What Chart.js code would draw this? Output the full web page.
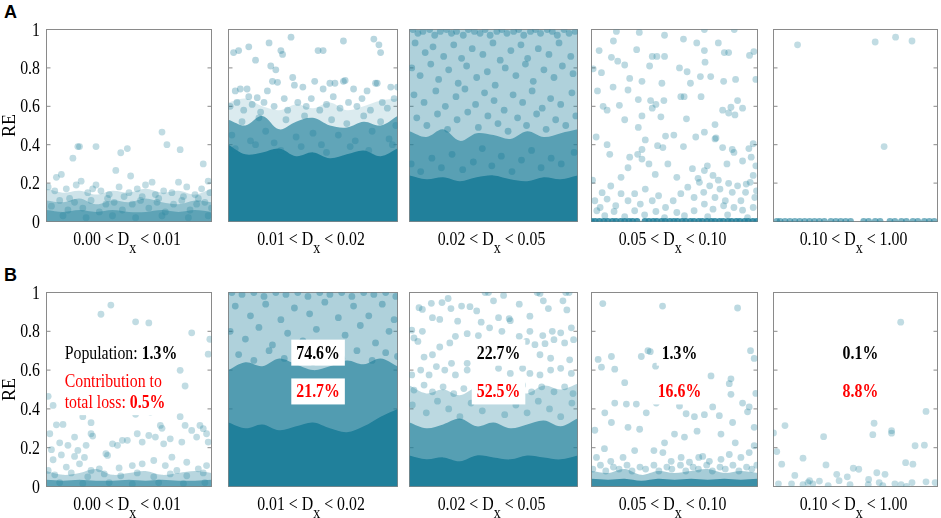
<!DOCTYPE html>
<html>
<head>
<meta charset="utf-8">
<script src="https://cdn.jsdelivr.net/npm/chart.js@4.4.1/dist/chart.umd.min.js"></script>
<style>
  html, body { margin: 0; padding: 0; background: #fff; }
  #wrap { position: relative; width: 941px; height: 518px; overflow: hidden; }
  #wrap canvas { position: absolute; }
  .tag { position: absolute; font: bold 18px "Liberation Sans", Arial, sans-serif; line-height: 18px; }
</style>
</head>
<body>
<div id="wrap">
  <div class="tag" style="left:4px;top:3px">A</div>
  <div class="tag" style="left:4px;top:266px">B</div>
</div>
<script>
// bins of Dx, one panel each
const bins = [[0, 0.01], [0.01, 0.02], [0.02, 0.05], [0.05, 0.10], [0.10, 1.00]];
const binEdges = ['0.00', '0.01', '0.02', '0.05', '0.10', '1.00'];
const yTicks = [0, 0.2, 0.4, 0.6, 0.8, 1];
const popShare = ['1.3%', '74.6%', '22.7%', '1.3%', '0.1%'];
const lossShare = ['0.5%', '21.7%', '52.5%', '16.6%', '8.8%'];

// x positions where the dense-cloud envelopes are read
const bandX = [
  [0, 0.001, 0.002, 0.003, 0.004, 0.005, 0.006, 0.007, 0.008, 0.009, 0.010],
  [0.010, 0.011, 0.012, 0.013, 0.014, 0.015, 0.016, 0.017, 0.018, 0.019, 0.020],
  [0.020, 0.023, 0.026, 0.029, 0.032, 0.035, 0.038, 0.041, 0.044, 0.047, 0.050],
  [0.050, 0.055, 0.060, 0.065, 0.070, 0.075, 0.080, 0.085, 0.090, 0.095, 0.100],
  [0.10, 0.19, 0.28, 0.37, 0.46, 0.55, 0.64, 0.73, 0.82, 0.91, 1.00]
];

// envelopes (top RE of each density level)
const a1Light = [0.17, 0.15, 0.16, 0.14, 0.16, 0.15, 0.17, 0.15, 0.16, 0.14, 0.17];
const a1Mid   = [0.11, 0.10, 0.12, 0.09, 0.11, 0.10, 0.12, 0.10, 0.09, 0.11, 0.10];
const a1Core  = [0.06, 0.05, 0.06, 0.05, 0.06, 0.05, 0.05, 0.06, 0.05, 0.06, 0.05];
const a2Light = [0.62, 0.64, 0.60, 0.58, 0.61, 0.59, 0.62, 0.58, 0.60, 0.63, 0.64];
const a2Mid   = [0.53, 0.50, 0.55, 0.48, 0.52, 0.54, 0.50, 0.49, 0.52, 0.50, 0.55];
const a2Core  = [0.40, 0.35, 0.36, 0.38, 0.34, 0.36, 0.33, 0.35, 0.37, 0.34, 0.38];
const a3Light = [1, 1, 1, 1, 1, 1, 1, 1, 1, 1, 1];
const a3Mid   = [0.47, 0.44, 0.48, 0.42, 0.46, 0.45, 0.43, 0.47, 0.44, 0.46, 0.48];
const a3Core  = [0.24, 0.22, 0.23, 0.21, 0.23, 0.24, 0.22, 0.21, 0.23, 0.22, 0.24];
const b1Mid   = [0.08, 0.06, 0.07, 0.09, 0.06, 0.07, 0.08, 0.06, 0.07, 0.08, 0.07];
const b1Core  = [0.035, 0.03, 0.035, 0.03, 0.03, 0.035, 0.03, 0.035, 0.03, 0.03, 0.035];
const b2Light = [1, 1, 1, 1, 1, 1, 1, 1, 1, 1, 1];
const b2Mid   = [0.60, 0.64, 0.62, 0.66, 0.63, 0.60, 0.62, 0.65, 0.63, 0.66, 0.62];
const b2Core  = [0.33, 0.30, 0.32, 0.29, 0.31, 0.33, 0.30, 0.28, 0.31, 0.36, 0.40];
const b3Light = [0.52, 0.48, 0.50, 0.47, 0.51, 0.49, 0.50, 0.48, 0.52, 0.50, 0.53];
const b3Mid   = [0.33, 0.30, 0.32, 0.35, 0.31, 0.33, 0.30, 0.32, 0.34, 0.31, 0.35];
const b3Core  = [0.16, 0.14, 0.15, 0.13, 0.16, 0.15, 0.14, 0.16, 0.15, 0.14, 0.16];
const b4Mid   = [0.08, 0.07, 0.09, 0.06, 0.08, 0.07, 0.08, 0.09, 0.07, 0.08, 0.07];
const b4Core  = [0.04, 0.035, 0.04, 0.03, 0.04, 0.035, 0.04, 0.035, 0.04, 0.035, 0.04];

// individual points [Dx, RE]
const a1Pts = [
  [0.0020,0.39],[0.0019,0.39],[0.0030,0.39],[0.0016,0.33],[0.0006,0.23],[0.0009,0.245],[0.0042,0.266],[0.0045,0.358],
  [0.0049,0.38],[0.0051,0.237],[0.0070,0.466],[0.0073,0.40],[0.0081,0.374],[0.0095,0.30],[0.0098,0.21],[0.0001,0.18],
  [0.0021,0.21],[0.0030,0.19],[0.0080,0.205],[0.0064,0.205],
  [0.0005,0.16],[0.0012,0.17],[0.0018,0.19],[0.0025,0.15],[0.0033,0.16],[0.0038,0.14],[0.0044,0.18],[0.0050,0.15],
  [0.0055,0.17],[0.0060,0.19],[0.0066,0.14],[0.0071,0.16],[0.0076,0.15],[0.0085,0.18],[0.0090,0.14],[0.0094,0.17],
  [0.0099,0.15],[0.0028,0.17],[0.0047,0.13],[0.0058,0.13],[0.0083,0.13],[0.0014,0.12],[0.0037,0.12],[0.0068,0.12],[0.0092,0.12],
  [0.0003,0.08],[0.0008,0.11],[0.0013,0.06],[0.0017,0.10],[0.0022,0.07],[0.0027,0.11],[0.0032,0.05],[0.0036,0.09],
  [0.0041,0.10],[0.0046,0.06],[0.0052,0.09],[0.0057,0.11],[0.0062,0.07],[0.0067,0.10],[0.0072,0.05],[0.0077,0.09],
  [0.0082,0.11],[0.0087,0.06],[0.0091,0.09],[0.0096,0.10],[0.0100,0.07],[0.0010,0.03],[0.0024,0.02],[0.0040,0.03],
  [0.0054,0.02],[0.0070,0.03],[0.0086,0.02],[0.0098,0.03]
];
const a2Pts = [
  [0.0103,0.88],[0.0106,0.89],[0.0112,0.91],[0.0116,0.84],[0.0124,0.93],[0.0131,0.89],[0.0132,0.87],[0.0137,0.96],
  [0.0153,0.89],[0.0156,0.89],[0.0168,0.94],[0.0186,0.95],[0.0189,0.92],[0.0190,0.88],[0.0125,0.81],[0.0128,0.79],
  [0.0104,0.68],[0.0107,0.69],[0.0111,0.69],[0.0112,0.65],[0.0117,0.645],[0.0123,0.68],[0.0126,0.73],[0.0129,0.725],
  [0.0138,0.75],[0.0139,0.71],[0.0144,0.70],[0.0151,0.73],[0.0156,0.69],[0.0160,0.72],[0.0163,0.72],[0.0168,0.73],
  [0.0169,0.735],[0.0174,0.69],[0.0182,0.68],[0.0187,0.72],[0.0188,0.72],[0.0196,0.70],[0.0200,0.70],
  [0.0101,0.60],[0.0105,0.62],[0.0109,0.58],[0.0114,0.61],[0.0119,0.57],[0.0121,0.62],[0.0127,0.60],[0.0133,0.64],
  [0.0135,0.58],[0.0141,0.62],[0.0146,0.60],[0.0149,0.64],[0.0154,0.58],[0.0158,0.61],[0.0162,0.65],[0.0166,0.59],
  [0.0171,0.62],[0.0176,0.60],[0.0179,0.64],[0.0184,0.58],[0.0191,0.62],[0.0194,0.59],[0.0198,0.64],
  [0.0102,0.45],[0.0108,0.52],[0.0113,0.42],[0.0118,0.54],[0.0122,0.47],[0.0127,0.41],[0.0134,0.53],[0.0140,0.44],
  [0.0145,0.55],[0.0150,0.46],[0.0155,0.40],[0.0161,0.53],[0.0165,0.45],[0.0170,0.51],[0.0175,0.42],[0.0180,0.55],
  [0.0185,0.47],[0.0190,0.52],[0.0195,0.43],[0.0199,0.50],
  [0.0104,0.38],[0.0116,0.40],[0.0131,0.37],[0.0143,0.39],[0.0158,0.36],[0.0172,0.39],[0.0183,0.37],[0.0197,0.40]
];
const a3Pts = [
  [0.0206,1.0],[0.0215,0.98],[0.0224,0.99],[0.0236,1.0],[0.0245,0.97],[0.0255,0.99],[0.0266,1.0],[0.0275,0.98],
  [0.0284,0.99],[0.0296,0.97],[0.0305,1.0],[0.0316,0.99],[0.0326,0.98],[0.0335,1.0],[0.0344,0.97],[0.0356,0.99],
  [0.0365,1.0],[0.0374,0.98],[0.0386,0.99],[0.0395,1.0],[0.0404,0.97],[0.0416,0.99],[0.0425,1.0],[0.0434,0.98],
  [0.0446,1.0],[0.0455,0.99],[0.0464,0.97],[0.0476,1.0],[0.0485,0.98],[0.0496,0.99],
  [0.0210,0.93],[0.0228,0.88],[0.0242,0.91],[0.0261,0.86],[0.0279,0.92],[0.0293,0.85],[0.0312,0.90],[0.0331,0.87],
  [0.0349,0.93],[0.0362,0.84],[0.0381,0.89],[0.0399,0.92],[0.0411,0.85],[0.0430,0.90],[0.0449,0.87],[0.0467,0.93],[0.0488,0.86],
  [0.0204,0.80],[0.0219,0.76],[0.0238,0.82],[0.0252,0.74],[0.0270,0.79],[0.0287,0.72],[0.0302,0.81],[0.0320,0.75],
  [0.0339,0.78],[0.0353,0.71],[0.0371,0.80],[0.0390,0.76],[0.0407,0.82],[0.0421,0.73],[0.0440,0.79],[0.0458,0.75],
  [0.0473,0.81],[0.0492,0.77],
  [0.0208,0.66],[0.0226,0.62],[0.0247,0.68],[0.0264,0.60],[0.0283,0.65],[0.0299,0.69],[0.0318,0.61],[0.0334,0.67],
  [0.0351,0.63],[0.0369,0.58],[0.0385,0.66],[0.0402,0.62],[0.0419,0.68],[0.0437,0.59],[0.0452,0.64],[0.0470,0.61],[0.0490,0.67],
  [0.0213,0.54],[0.0231,0.50],[0.0250,0.56],[0.0268,0.48],[0.0285,0.53],[0.0304,0.57],[0.0323,0.49],[0.0340,0.55],
  [0.0358,0.51],[0.0376,0.47],[0.0393,0.54],[0.0409,0.50],[0.0427,0.56],[0.0444,0.48],[0.0461,0.53],[0.0479,0.50],[0.0497,0.55],
  [0.0203,0.30],[0.0220,0.26],[0.0240,0.33],[0.0257,0.28],[0.0276,0.35],[0.0295,0.27],[0.0314,0.31],[0.0330,0.38],
  [0.0347,0.29],[0.0364,0.34],[0.0383,0.26],[0.0400,0.32],[0.0418,0.37],[0.0435,0.28],[0.0453,0.33],[0.0471,0.30],[0.0494,0.36]
];
const a4Pts = [
  [0.0575,0.99],[0.0644,0.985],[0.0720,0.97],[0.0840,1.0],[0.0930,1.0],[0.0523,0.89],[0.0566,0.94],[0.0636,0.895],
  [0.0683,0.86],[0.0720,0.86],[0.0777,0.95],[0.0817,0.93],[0.0840,0.89],[0.0882,0.93],[0.0913,0.88],[0.0900,0.88],
  [0.0976,0.865],[0.0989,0.885],[0.0560,0.855],[0.0579,0.835],[0.0600,0.815],[0.0675,0.81],[0.0697,0.86],[0.0765,0.80],
  [0.0788,0.78],[0.0842,0.83],[0.0505,0.795],[0.0530,0.775],[0.0615,0.745],[0.0652,0.73],[0.0712,0.72],[0.0769,0.65],
  [0.0779,0.65],[0.0798,0.72],[0.0828,0.755],[0.0859,0.755],[0.0898,0.73],[0.0934,0.74],[0.0995,0.74],[0.0518,0.68],
  [0.0565,0.70],[0.0610,0.685],[0.0641,0.635],[0.0678,0.63],[0.0694,0.61],[0.0718,0.63],[0.0830,0.65],[0.0895,0.58],
  [0.0940,0.63],[0.0955,0.59],[0.0920,0.595],[0.0535,0.60],[0.0547,0.58],[0.0584,0.605],[0.0600,0.53],[0.0641,0.49],
  [0.0652,0.55],[0.0683,0.59],[0.0709,0.545],[0.0786,0.535],[0.0872,0.505],[0.0913,0.565],[0.0932,0.555],
  [0.0514,0.44],[0.0547,0.40],[0.0555,0.35],[0.0615,0.335],[0.0639,0.35],[0.0652,0.375],[0.0662,0.425],[0.0699,0.395],
  [0.0715,0.385],[0.0748,0.45],[0.0723,0.445],[0.0777,0.39],[0.0814,0.44],[0.0840,0.465],[0.0872,0.43],[0.0875,0.435],
  [0.0895,0.385],[0.0924,0.375],[0.0974,0.38],[0.0987,0.405],
  [0.0503,0.215],[0.0532,0.15],[0.0558,0.185],[0.0589,0.23],[0.0610,0.28],[0.0652,0.325],[0.0673,0.30],[0.0692,0.245],
  [0.0730,0.30],[0.0757,0.23],[0.0804,0.275],[0.0821,0.225],[0.0840,0.265],[0.0849,0.29],[0.0866,0.24],[0.0882,0.215],
  [0.0908,0.30],[0.0929,0.36],[0.0955,0.315],[0.0981,0.335],[0.0995,0.29],[0.0987,0.24],[0.0966,0.195],
  [0.0510,0.108],[0.0526,0.073],[0.0547,0.117],[0.0573,0.082],[0.0589,0.145],[0.0610,0.108],[0.0630,0.145],[0.0647,0.091],
  [0.0662,0.169],[0.0683,0.108],[0.0702,0.134],[0.0723,0.073],[0.0746,0.108],[0.0769,0.145],[0.0790,0.179],[0.0809,0.125],
  [0.0825,0.204],[0.0838,0.152],[0.0856,0.186],[0.0872,0.125],[0.0887,0.169],[0.0903,0.108],[0.0913,0.199],[0.0924,0.152],
  [0.0940,0.186],[0.0950,0.108],[0.0964,0.152],[0.0978,0.204],[0.0992,0.125],[0.0997,0.16],[0.0987,0.073],[0.0929,0.073],
  [0.0866,0.064],[0.0809,0.056],[0.0757,0.047],[0.0694,0.052],[0.0630,0.056],[0.0568,0.052],[0.0516,0.056],[0.0840,0.091],
  [0.0898,0.082],[0.0955,0.059],[0.0540,0.03],[0.0600,0.025],[0.0660,0.035],[0.0720,0.02],[0.0780,0.03],[0.0850,0.025],
  [0.0910,0.035],[0.0970,0.02]
];
const a4Zero = [
  [0.0500,0],[0.0511,0],[0.0524,0],[0.0537,0],[0.0549,0],[0.0563,0],[0.0574,0],[0.0588,0],[0.0600,0],[0.0613,0],
  [0.0624,0],[0.0637,0],[0.0661,0],[0.0673,0],[0.0686,0],[0.0697,0],[0.0711,0],[0.0722,0],[0.0736,0],[0.0748,0],
  [0.0759,0],[0.0773,0],[0.0784,0],[0.0798,0],[0.0809,0],[0.0823,0],[0.0834,0],[0.0848,0],[0.0861,0],[0.0872,0],
  [0.0886,0],[0.0897,0],[0.0911,0],[0.0922,0],[0.0936,0],[0.0947,0],[0.0961,0],[0.0972,0],[0.0986,0],[0.0998,0]
];
const a5Pts = [[0.232,0.92],[0.658,0.935],[0.770,0.96],[0.860,0.94],[0.707,0.39]];
const a5Zero = [
  [0.118,0],[0.136,0],[0.163,0],[0.190,0],[0.217,0],[0.244,0],[0.271,0],[0.298,0],[0.325,0],[0.352,0],[0.379,0],
  [0.415,0],[0.442,0],[0.469,0],[0.496,0],[0.523,0],[0.595,0],[0.622,0],[0.658,0],[0.685,0],[0.739,0],[0.766,0],
  [0.802,0],[0.829,0],[0.865,0],[0.892,0],[0.928,0],[0.955,0],[0.982,0]
];
const b1Pts = [
  [0.0033,0.888],[0.0039,0.935],[0.0054,0.849],[0.0062,0.843],[0.0088,0.792],[0.0099,0.759],[0.0098,0.682],[0.0081,0.599],
  [0.0084,0.518],[0.0081,0.36],[0.0084,0.315],[0.0001,0.465],[0.0004,0.418],[0.0002,0.272],[0.0006,0.318],[0.0010,0.32],
  [0.0022,0.36],[0.0027,0.329],[0.0027,0.272],[0.0028,0.26],[0.0024,0.212],[0.0017,0.255],[0.0013,0.212],[0.0008,0.225],
  [0.0004,0.138],[0.0001,0.083],[0.0017,0.155],[0.0023,0.15],[0.0036,0.169],[0.0037,0.16],[0.0040,0.22],[0.0043,0.212],
  [0.0046,0.238],[0.0049,0.238],[0.0054,0.372],[0.0055,0.272],[0.0058,0.229],[0.0062,0.263],[0.0063,0.384],[0.0066,0.255],
  [0.0069,0.315],[0.0070,0.30],[0.0071,0.22],[0.0075,0.246],[0.0076,0.151],[0.0082,0.229],[0.0088,0.289],[0.0091,0.255],
  [0.0093,0.315],[0.0095,0.298],[0.0097,0.272],[0.0098,0.229],[0.0032,0.091],[0.0019,0.186],[0.0020,0.117],[0.0012,0.10],
  [0.0009,0.163],[0.0003,0.19],[0.0044,0.096],[0.0052,0.108],[0.0058,0.117],[0.0065,0.134],[0.0072,0.108],[0.0079,0.083],
  [0.0085,0.125],[0.0092,0.091],[0.0097,0.108],[0.0027,0.083],
  [0.0005,0.06],[0.0015,0.07],[0.0025,0.05],[0.0035,0.065],[0.0045,0.055],[0.0055,0.07],[0.0065,0.05],[0.0075,0.065],
  [0.0085,0.055],[0.0095,0.07],[0.0008,0.02],[0.0022,0.015],[0.0038,0.02],[0.0052,0.012],[0.0068,0.02],[0.0083,0.015],[0.0096,0.02]
];
const b2Pts = [
  [0.0102,1.0],[0.0108,0.99],[0.0115,1.0],[0.0121,0.98],[0.0128,1.0],[0.0134,0.99],[0.0141,1.0],[0.0147,0.98],
  [0.0154,1.0],[0.0160,0.99],[0.0167,1.0],[0.0173,0.98],[0.0180,1.0],[0.0186,0.99],[0.0193,1.0],[0.0199,0.98],
  [0.0104,0.93],[0.0113,0.88],[0.0122,0.94],[0.0131,0.86],[0.0139,0.92],[0.0148,0.89],[0.0157,0.95],[0.0165,0.87],
  [0.0174,0.93],[0.0183,0.88],[0.0191,0.94],[0.0198,0.86],
  [0.0101,0.80],[0.0110,0.76],[0.0118,0.82],[0.0126,0.73],[0.0135,0.79],[0.0144,0.75],[0.0152,0.81],[0.0161,0.72],
  [0.0169,0.78],[0.0178,0.83],[0.0187,0.74],[0.0195,0.80],
  [0.0106,0.68],[0.0115,0.65],[0.0124,0.70],[0.0133,0.66],[0.0142,0.69],[0.0150,0.64],[0.0159,0.68],[0.0167,0.66],
  [0.0176,0.70],[0.0185,0.65],[0.0193,0.69],[0.0200,0.67]
];
const b3Pts = [
  [0.0335,1.0],[0.0341,1.0],[0.0350,0.957],[0.0428,1.0],[0.0433,0.995],[0.0479,1.0],[0.0485,1.0],[0.0368,0.985],
  [0.0396,0.94],[0.0439,0.957],[0.0448,0.917],[0.0474,0.957],[0.0481,0.91],
  [0.0217,0.922],[0.0223,0.913],[0.0239,0.944],[0.0258,0.948],[0.0269,0.969],[0.0274,0.917],[0.0293,0.93],[0.0308,0.927],
  [0.0320,0.905],[0.0359,0.87],[0.0378,0.865],[0.0380,0.855],[0.0415,0.878],
  [0.0204,0.806],[0.0208,0.766],[0.0223,0.80],[0.0241,0.87],[0.0254,0.861],[0.0286,0.852],[0.0303,0.788],[0.0323,0.778],
  [0.0343,0.818],[0.0328,0.847],[0.0365,0.80],[0.0396,0.774],[0.0415,0.80],[0.0438,0.778],[0.0455,0.80],[0.0470,0.792],
  [0.0489,0.818],[0.0493,0.757],
  [0.0215,0.748],[0.0226,0.667],[0.0241,0.679],[0.0254,0.719],[0.0272,0.74],[0.0282,0.774],[0.0275,0.635],[0.0303,0.635],
  [0.0354,0.731],[0.0378,0.714],[0.0393,0.731],[0.0409,0.748],[0.0424,0.731],[0.0442,0.736],[0.0458,0.757],[0.0477,0.74],
  [0.0433,0.679],[0.0452,0.661],[0.0486,0.653],
  [0.0204,0.575],[0.0220,0.60],[0.0235,0.575],[0.0248,0.618],[0.0263,0.60],[0.0282,0.575],[0.0303,0.60],[0.0359,0.609],
  [0.0380,0.583],[0.0402,0.609],[0.0415,0.583],[0.0433,0.575],[0.0452,0.60],[0.0470,0.609],[0.0489,0.583],
  [0.0208,0.497],[0.0226,0.523],[0.0241,0.488],[0.0260,0.514],[0.0279,0.479],[0.0297,0.505],[0.0359,0.505],[0.0384,0.497],
  [0.0402,0.523],[0.0418,0.488],[0.0436,0.514],[0.0458,0.488],[0.0477,0.514],[0.0492,0.479],
  [0.0205,0.42],[0.0230,0.38],[0.0250,0.44],[0.0270,0.40],[0.0290,0.36],[0.0310,0.43],[0.0330,0.39],[0.0350,0.45],
  [0.0370,0.37],[0.0390,0.42],[0.0410,0.38],[0.0430,0.44],[0.0450,0.40],[0.0470,0.36],[0.0490,0.43]
];
const b4Pts = [
  [0.0534,0.943],[0.0714,0.93],[0.0940,0.92],[0.0670,0.70],[0.0677,0.695],[0.0979,0.70],[0.0990,0.66],[0.0520,0.655],
  [0.0560,0.67],[0.0530,0.615],[0.0570,0.605],[0.0650,0.67],[0.0693,0.62],[0.0600,0.535],[0.0860,0.57],[0.0920,0.555],
  [0.0915,0.53],[0.0920,0.475],[0.0570,0.43],[0.0540,0.38],[0.0510,0.29],[0.0560,0.33],[0.0605,0.425],[0.0635,0.425],
  [0.0665,0.38],[0.0695,0.43],[0.0765,0.415],[0.0785,0.375],[0.0810,0.36],[0.0840,0.37],[0.0865,0.41],[0.0885,0.365],
  [0.0955,0.43],[0.0975,0.41],[0.0995,0.48],[0.0990,0.305],[0.0970,0.385],[0.0925,0.33],
  [0.0610,0.305],[0.0645,0.295],[0.0720,0.225],[0.0750,0.27],[0.0780,0.255],[0.0818,0.285],[0.0835,0.155],[0.0890,0.27],
  [0.0933,0.225],[0.0990,0.21],[0.0539,0.195],[0.0558,0.13],[0.0595,0.15],[0.0630,0.185],[0.0688,0.185],[0.0715,0.175],
  [0.0740,0.13],[0.0770,0.15],[0.0795,0.125],[0.0823,0.15],[0.0855,0.13],[0.0890,0.14],[0.0915,0.165],[0.0950,0.15],
  [0.0975,0.175],[0.0515,0.15],
  [0.0504,0.09],[0.0527,0.11],[0.0543,0.08],[0.0566,0.10],[0.0583,0.09],[0.0607,0.11],[0.0622,0.08],[0.0646,0.10],
  [0.0663,0.09],[0.0688,0.11],[0.0703,0.08],[0.0727,0.10],[0.0742,0.09],[0.0768,0.11],[0.0784,0.08],[0.0806,0.10],
  [0.0822,0.09],[0.0847,0.11],[0.0864,0.08],[0.0887,0.10],[0.0903,0.09],[0.0926,0.11],[0.0944,0.08],[0.0967,0.10],
  [0.0983,0.09],[0.0998,0.11]
];
const b5Pts = [
  [0.798,0.847],[0.937,0.387],[0.877,0.21],[0.928,0.213],[0.100,0.276],[0.118,0.18],[0.163,0.314],[0.145,0.115],
  [0.262,0.146],[0.375,0.257],[0.388,0.111],[0.217,0.057],[0.568,0.089],[0.538,0.094],[0.645,0.267],[0.652,0.326],
  [0.748,0.288],[0.748,0.275],[0.667,0.071],[0.712,0.063],[0.622,0.036],[0.825,0.123],[0.865,0.115],[0.937,0.024],
  [0.987,0.02],[0.766,0.014],[0.447,0.063],[0.505,0.05],[0.199,0.014],[0.127,0.014],[0.316,0.014],[0.352,0.028],
  [0.262,0.01],[0.289,0.02],[0.298,0.03],[0.400,0.005],[0.460,0.03],[0.520,0.01],[0.620,0.01],[0.680,0.02],
  [0.700,0.005],[0.800,0.01],[0.830,0.0],[0.860,0.02]
];

const teal = '33,128,155';
const SX = 0.88; // lettering in the figure is slightly narrow
const serif = (px, bold) => (bold ? 'bold ' : '') + px + 'px "Liberation Serif", "Times New Roman", serif';

// layout: frames of the panels in page pixels
const frameX = [[46.5, 211.5], [228.5, 397.5], [409.5, 577.5], [591.5, 757.5], [773.5, 937.5]];
const frameY = [[29.5, 221.5], [292.5, 486.5]];

const panels = [
  [
    { bands: [[a1Light, 0.22], [a1Mid, 0.35], [a1Core, 0.45]], dots: [[a1Pts, 0.28]] },
    { bands: [[a2Light, 0.16], [a2Mid, 0.65], [a2Core, 1]], dots: [[a2Pts, 0.32]] },
    { bands: [[a3Light, 0.36], [a3Mid, 0.6], [a3Core, 1]], dots: [[a3Pts, 0.4]] },
    { bands: [], dots: [[a4Pts, 0.3], [a4Zero, 0.85]] },
    { bands: [], dots: [[a5Pts, 0.28], [a5Zero, 0.6]] }
  ],
  [
    { bands: [[b1Mid, 0.32], [b1Core, 0.6]], dots: [[b1Pts, 0.28]] },
    { bands: [[b2Light, 0.36], [b2Mid, 0.65], [b2Core, 1]], dots: [[b2Pts, 0.4]] },
    { bands: [[b3Light, 0.3], [b3Mid, 0.65], [b3Core, 1]], dots: [[b3Pts, 0.3]] },
    { bands: [[b4Mid, 0.4], [b4Core, 0.8]], dots: [[b4Pts, 0.3]] },
    { bands: [], dots: [[b5Pts, 0.28]] }
  ]
];

function runsWidth(ctx, runs) {
  let w = 0;
  runs.forEach(r => { ctx.font = r.font; w += ctx.measureText(r.text).width; });
  return w * SX;
}
function drawRuns(ctx, runs, x, y) {
  ctx.save();
  ctx.translate(x, y);
  ctx.scale(SX, 1);
  ctx.textBaseline = 'alphabetic';
  ctx.textAlign = 'left';
  let cx = 0;
  runs.forEach(r => {
    ctx.font = r.font;
    ctx.fillStyle = r.color || '#000';
    ctx.fillText(r.text, cx, r.dy || 0);
    cx += ctx.measureText(r.text).width;
  });
  ctx.restore();
}

const framePlugin = {
  id: 'frame',
  beforeDatasetsDraw(chart, args, opts) {
    const { ctx, chartArea: a } = chart;
    const y = chart.scales.y;
    ctx.save();
    ctx.strokeStyle = '#8a8a8a';
    ctx.lineWidth = 1;
    ctx.strokeRect(a.left, a.top, a.right - a.left, a.bottom - a.top);
    ctx.beginPath();
    yTicks.forEach(v => {
      const p = y.getPixelForValue(v);
      ctx.moveTo(a.left, p); ctx.lineTo(a.left + 4, p);
      ctx.moveTo(a.right, p); ctx.lineTo(a.right - 4, p);
    });
    ctx.stroke();
    if (opts.col === 0) {
      yTicks.forEach(v => {
        const runs = [{ text: String(v), font: serif(18) }];
        drawRuns(ctx, runs, a.left - 6.5 - runsWidth(ctx, runs), y.getPixelForValue(v) + 6);
      });
      ctx.save();
      ctx.translate(15, (a.top + a.bottom) / 2);
      ctx.rotate(-Math.PI / 2);
      ctx.font = serif(18);
      ctx.textAlign = 'center';
      ctx.fillStyle = '#000';
      ctx.fillText('RE', 0, 0);
      ctx.restore();
    }
    ctx.restore();
  },
  afterDraw(chart, args, opts) {
    const { ctx, chartArea: a } = chart;
    const runs = [
      { text: binEdges[opts.col] + ' < D', font: serif(18) },
      { text: 'x', font: serif(16), dy: 8 },
      { text: ' < ' + binEdges[opts.col + 1], font: serif(18) }
    ];
    const w = runsWidth(ctx, runs);
    drawRuns(ctx, runs, (a.left + a.right) / 2 - 2 - w / 2, a.bottom + 23);
  }
};

const notePlugin = {
  id: 'note',
  afterDatasetsDraw(chart, args, opts) {
    if (opts.row !== 1) return;
    const { ctx } = chart;
    const xs = chart.scales.x, ys = chart.scales.y;
    const [lo, hi] = bins[opts.col];
    let lines;
    if (opts.col === 0) {
      const left = xs.getPixelForValue(lo + 0.11 * (hi - lo));
      lines = [
        { runs: [{ text: 'Population: ', font: serif(18) }, { text: popShare[0], font: serif(18, true) }], v: 0.69 },
        { runs: [{ text: 'Contribution to', font: serif(18), color: '#ff0000' }], v: 0.543 },
        { runs: [{ text: 'total loss: ', font: serif(18), color: '#ff0000' }, { text: lossShare[0], font: serif(18, true), color: '#ff0000' }], v: 0.435 }
      ].map(l => ({ ...l, x: left, w: runsWidth(ctx, l.runs), pad: 3 }));
    } else {
      const cx = xs.getPixelForValue(lo + 0.53 * (hi - lo));
      lines = [
        { runs: [{ text: popShare[opts.col], font: serif(18, true) }], v: 0.69 },
        { runs: [{ text: lossShare[opts.col], font: serif(18, true), color: '#ff0000' }], v: 0.49 }
      ].map(l => { const w = runsWidth(ctx, l.runs); return { ...l, x: cx - w / 2, w, pad: 5 }; });
    }
    ctx.save();
    ctx.fillStyle = '#fff';
    lines.forEach(l => {
      const base = ys.getPixelForValue(l.v) + 6;
      ctx.fillRect(l.x - l.pad, base - 19, l.w + 2 * l.pad, 26);
    });
    ctx.restore();
    lines.forEach(l => drawRuns(ctx, l.runs, l.x, ys.getPixelForValue(l.v) + 6));
  }
};

const wrap = document.getElementById('wrap');

panels.forEach((rowSpec, row) => {
  rowSpec.forEach((spec, col) => {
    const [x0, x1] = frameX[col];
    const [y0, y1] = frameY[row];
    const padL = col === 0 ? x0 : 6.5, padR = 6.5, padT = 8.5, padB = 40.5;
    const left = x0 - padL, top = y0 - padT;
    const w = x1 - x0 + padL + padR, h = y1 - y0 + padT + padB;
    const cv = document.createElement('canvas');
    cv.width = w; cv.height = h;
    cv.style.left = left + 'px'; cv.style.top = top + 'px';
    cv.style.width = w + 'px'; cv.style.height = h + 'px';
    wrap.appendChild(cv);

    const datasets = [];
    spec.bands.forEach(([tops, alpha]) => {
      datasets.push({
        data: bandX[col].map((x, i) => [x, tops[i]]),
        showLine: true, fill: 'origin', pointRadius: 0, borderWidth: 0, tension: 0.35,
        borderColor: 'transparent', backgroundColor: `rgba(${teal},${alpha})`, order: 5
      });
    });
    spec.dots.forEach(([pts, alpha]) => {
      datasets.push({
        data: pts, showLine: false, pointRadius: 3.4, pointBorderWidth: 0,
        pointBorderColor: 'transparent', pointBackgroundColor: `rgba(${teal},${alpha})`, order: 1
      });
    });

    new Chart(cv, {
      type: 'scatter',
      data: { datasets },
      options: {
        responsive: false,
        animation: false,
        events: [],
        layout: { padding: { left: padL, right: padR, top: padT, bottom: padB } },
        plugins: {
          legend: { display: false },
          tooltip: { enabled: false },
          frame: { col },
          note: { row, col }
        },
        scales: {
          x: { type: 'linear', min: bins[col][0], max: bins[col][1], display: false },
          y: { type: 'linear', min: 0, max: 1, display: false }
        }
      },
      plugins: [framePlugin, notePlugin]
    });
  });
});
</script>
</body>
</html>
